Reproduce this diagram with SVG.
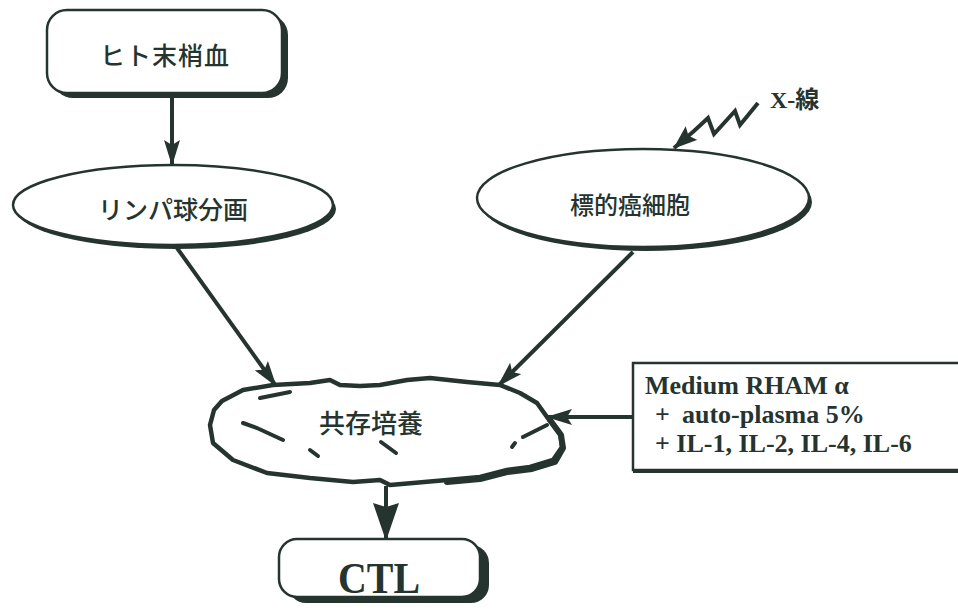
<svg xmlns="http://www.w3.org/2000/svg" width="958" height="615" viewBox="0 0 958 615">
<style>
.ink{stroke:#26342f;fill:none}
.box{fill:#fff;stroke:#26342f;stroke-width:2.5}
.shadow{fill:#26342f}
.jp{font-family:"Noto Sans CJK JP","Noto Sans",sans-serif;font-weight:500;fill:#26342f;text-anchor:middle}
.en{font-family:"Liberation Serif","Noto Sans CJK JP",serif;font-weight:bold;fill:#26342f}
.conn{stroke:#26342f;stroke-width:4;fill:none}
</style>
<defs>
<marker id="ah" markerUnits="userSpaceOnUse" viewBox="0 0 26 16" refX="25" refY="8" markerWidth="26" markerHeight="16" orient="auto">
<path d="M0,0 L26,8 L0,16 L5,8 Z" fill="#26342f"/>
</marker>
<marker id="ahBig" markerUnits="userSpaceOnUse" viewBox="0 0 38 26" refX="37" refY="13" markerWidth="38" markerHeight="26" orient="auto">
<path d="M0,0 L38,13 L0,26 L4,13 Z" fill="#26342f"/>
</marker>
<marker id="ahX" markerUnits="userSpaceOnUse" viewBox="0 0 24 18" refX="23" refY="9" markerWidth="24" markerHeight="18" orient="auto">
<path d="M0,0 L24,9 L0,18 L4,9 Z" fill="#26342f"/>
</marker>
</defs>
<rect width="958" height="615" fill="#fff"/>

<g id="connectors">
<line class="conn" x1="172" y1="95" x2="172" y2="165" marker-end="url(#ah)"/>
<line class="conn" x1="177" y1="248" x2="276" y2="386" marker-end="url(#ah)"/>
<line class="conn" x1="633" y1="252" x2="498" y2="386" marker-end="url(#ah)"/>
<line class="conn" x1="633" y1="417" x2="547" y2="417" marker-end="url(#ah)"/>
<line class="conn" x1="386" y1="486" x2="386" y2="540" stroke-width="5" marker-end="url(#ahBig)"/>
<polyline class="conn" stroke-width="3.5" stroke-linejoin="miter" points="758,103 740,125 735,111 714,134 708,118 694,131 674,148" marker-end="url(#ahX)"/>
</g>

<g id="n-blood">
<rect class="shadow" x="53" y="15" width="235" height="83" rx="20"/>
<rect class="box" x="47" y="10" width="235" height="83" rx="20"/>
<text class="jp" x="165" y="65" font-size="25" letter-spacing="1">ヒト末梢血</text>
</g>

<g id="n-lymph">
<ellipse class="shadow" cx="176" cy="209" rx="160" ry="40"/>
<ellipse class="box" cx="173" cy="205" rx="160" ry="40"/>
<text class="jp" x="173" y="219" font-size="25">リンパ球分画</text>
</g>

<g id="n-target">
<ellipse class="shadow" cx="646" cy="202" rx="166" ry="49"/>
<ellipse class="box" cx="643" cy="198" rx="166" ry="49"/>
<text class="jp" x="630" y="214" font-size="24">標的癌細胞</text>
</g>

<g id="n-xray">
<text class="en" x="770" y="108" font-size="24">X-線</text>
</g>

<g id="n-coculture">
<polygon fill="#fff" stroke="#26342f" stroke-width="4.5" stroke-linejoin="round" points="210,425 214,410 222,401 243,390 273,385 310,383 330,380 340,385 360,386 380,385 407,380 430,378 467,382 500,385 520,393 537,403 547,417 560,433 562,447 553,460 530,467 507,470 480,477 447,480 413,483 390,485 380,480 353,482 310,478 267,473 233,460 213,443"/>
<polyline class="ink" stroke-width="6" stroke-linecap="round" stroke-linejoin="round" points="550,420 561,435 563,448 555,462 532,469 507,472 480,479 447,482"/>
<g class="ink" stroke-width="4" stroke-linecap="round">
<path d="M260,398 L290,392"/>
<path d="M243,423 L257,428 L283,440"/>
<path d="M310,450 L318,456"/>
<path d="M381,442 L396,453"/>
<path d="M512,447 L515,443"/>
<path d="M523,437 L547,425"/>
</g>
<text class="jp" x="371" y="433" font-size="26">共存培養</text>
</g>

<g id="n-medium">
<rect class="box" x="633" y="363" width="340" height="107"/>
<line class="ink" x1="633" y1="471" x2="958" y2="471" stroke-width="4"/>
<text class="en" font-size="26">
<tspan x="645" y="394">Medium RHAM α</tspan>
<tspan x="655" y="423">+</tspan><tspan x="682" y="423">auto-plasma 5%</tspan>
<tspan x="655" y="452">+ IL-1, IL-2, IL-4, IL-6</tspan>
</text>
</g>

<g id="n-ctl">
<rect class="shadow" x="288" y="545" width="201" height="58" rx="18"/>
<rect class="box" x="279" y="539" width="201" height="58" rx="18"/>
<text class="en" x="379" y="593" font-size="44" text-anchor="middle" textLength="82" lengthAdjust="spacingAndGlyphs">CTL</text>
</g>
</svg>
